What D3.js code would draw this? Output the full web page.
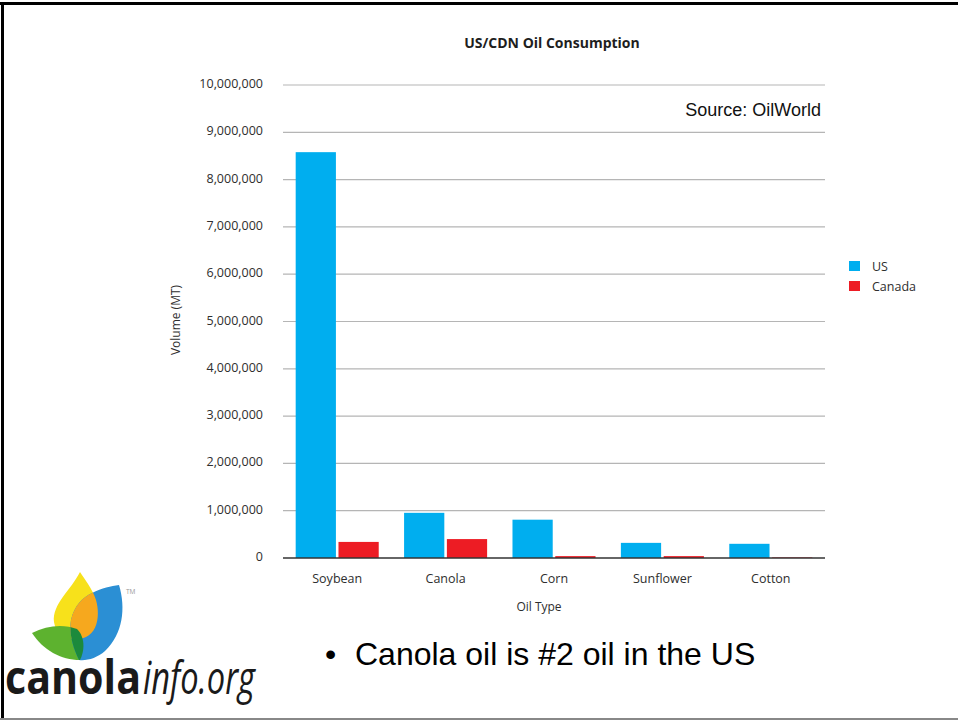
<!DOCTYPE html>
<html>
<head>
<meta charset="utf-8">
<script src="https://cdn.jsdelivr.net/npm/d3@7"></script>
<style>
  html, body { margin: 0; padding: 0; background: #fff; }
  svg { display: block; }
</style>
</head>
<body>
<svg id="chart" width="958" height="720"></svg>
<script>
// ---- data ----
const categories = ["Soybean", "Canola", "Corn", "Sunflower", "Cotton"];
const seriesNames = ["US", "Canada"];
const usValues = [8580000, 955000, 810000, 320000, 300000];
const canadaValues = [340000, 400000, 40000, 40000, 12000];
const yTicks = [0, 1000000, 2000000, 3000000, 4000000, 5000000, 6000000, 7000000, 8000000, 9000000, 10000000];
const seriesColors = ["#00AEEF", "#ED1C24"];

const svg = d3.select("#chart");
const font = "'Open Sans', 'DejaVu Sans', sans-serif";
const textColor = "#2e2e2e";

// ---- frame ----
svg.append("rect").attr("x", 0).attr("y", 0).attr("width", 958).attr("height", 720).attr("fill", "#fff");
svg.append("rect").attr("x", 0).attr("y", 2).attr("width", 958).attr("height", 3).attr("fill", "#000");
svg.append("rect").attr("x", 1).attr("y", 2).attr("width", 3).attr("height", 718).attr("fill", "#000");
svg.append("rect").attr("x", 0).attr("y", 718).attr("width", 958).attr("height", 2).attr("fill", "#888");

// ---- scales ----
const x0 = d3.scaleBand().domain(categories).range([283, 825]).paddingInner(0.234).paddingOuter(0.117);
const x1 = d3.scaleBand().domain(seriesNames).range([0, x0.bandwidth()]).paddingInner(0.06);
const y = d3.scaleLinear().domain([0, 10000000]).range([558, 85]);

// gridlines
svg.append("g").selectAll("line").data(yTicks.filter(d => d > 0)).join("line")
  .attr("x1", 283).attr("x2", 825)
  .attr("y1", d => y(d)).attr("y2", d => y(d))
  .attr("stroke", "#b5b5b5").attr("stroke-width", 1.2);

// y tick labels via axis
const yAxis = d3.axisLeft(y).tickValues(yTicks).tickFormat(d3.format(",")).tickSize(0).tickPadding(0);
const yg = svg.append("g").attr("transform", "translate(263,0)").call(yAxis);
yg.select(".domain").remove();
yg.selectAll("text").attr("font-family", font).attr("font-size", 12.5).attr("fill", textColor).attr("dy", "0.2em");

// bars
const groups = svg.append("g").selectAll("g").data(categories).join("g")
  .attr("transform", d => `translate(${x0(d)},0)`);
groups.selectAll("rect").data((d, i) => [
    { s: "US", v: usValues[i], c: seriesColors[0] },
    { s: "Canada", v: canadaValues[i], c: seriesColors[1] }
  ]).join("rect")
  .attr("x", d => x1(d.s))
  .attr("width", x1.bandwidth())
  .attr("y", d => y(d.v))
  .attr("height", d => y(0) - y(d.v))
  .attr("fill", d => d.c);

// baseline
svg.append("line").attr("x1", 283).attr("x2", 825).attr("y1", y(0)).attr("y2", y(0))
  .attr("stroke", "#333").attr("stroke-width", 1.5);

// x axis labels
const xAxis = d3.axisBottom(x0).tickSize(0).tickPadding(0);
const xg = svg.append("g").attr("transform", "translate(0,574)").call(xAxis);
xg.select(".domain").remove();
xg.selectAll("text").attr("font-family", font).attr("font-size", 12.5).attr("fill", textColor);

// axis titles
svg.append("text").attr("x", 539).attr("y", 611).attr("text-anchor", "middle")
  .attr("font-family", font).attr("font-size", 12).attr("fill", textColor).text("Oil Type");
svg.append("text").attr("transform", "translate(180,320) rotate(-90)").attr("text-anchor", "middle")
  .attr("font-family", font).attr("font-size", 12).attr("fill", textColor).text("Volume (MT)");

// title
svg.append("text").attr("x", 552).attr("y", 48).attr("text-anchor", "middle")
  .attr("font-family", font).attr("font-weight", "bold").attr("font-size", 14).attr("fill", "#1e1e1e")
  .text("US/CDN Oil Consumption");

// source
svg.append("text").attr("x", 821).attr("y", 116).attr("text-anchor", "end")
  .attr("font-family", "'Liberation Sans', Arial, sans-serif").attr("font-size", 18).attr("fill", "#111")
  .text("Source: OilWorld");

// legend
const legend = svg.append("g").selectAll("g").data(seriesNames).join("g")
  .attr("transform", (d, i) => `translate(849,${261 + i * 20})`);
legend.append("rect").attr("width", 11).attr("height", 10).attr("fill", (d, i) => seriesColors[i]);
legend.append("text").attr("x", 23).attr("y", 9.5)
  .attr("font-family", font).attr("font-size", 12.5).attr("fill", textColor).text(d => d);

// bullet text
svg.append("text").attr("x", 325).attr("y", 665)
  .attr("font-family", "'Liberation Sans', Arial, sans-serif").attr("font-size", 32).attr("fill", "#000")
  .text("\u2022");
svg.append("text").attr("x", 355).attr("y", 665)
  .attr("font-family", "'Liberation Sans', Arial, sans-serif").attr("font-size", 32).attr("fill", "#000")
  .text("Canola oil is #2 oil in the US");

// ---- logo ----
const logo = svg.append("g");
const defs = svg.append("defs");
const bluePath = "M92,593 C102,588 111,586 119,585 C126,608 123,634 105,651 C97,658 87,661 79,660 C72,646 69,632 71,620 C74,606 83,597 92,593 Z";
const yellowPath = "M80,572 C71,590 52,604 54,622 C56,637 73,643 86,637 C98,631 100,614 96,600 C92,588 85,580 80,572 Z";
const greenPath = "M32,633 C47,625 64,624 77,629 C85,637 85,650 80,660 C61,660 43,650 32,633 Z";
defs.append("clipPath").attr("id", "blueClip").append("path").attr("d", bluePath);
logo.append("path").attr("d", yellowPath).attr("fill", "#F7E11B");
logo.append("path").attr("d", greenPath).attr("fill", "#5DB22F");
logo.append("path").attr("d", bluePath).attr("fill", "#2B8FD4");
logo.append("path").attr("d", yellowPath).attr("fill", "#F6A81E").attr("clip-path", "url(#blueClip)");
logo.append("path").attr("d", greenPath).attr("fill", "#1C8A3C").attr("clip-path", "url(#blueClip)");
logo.append("text").attr("x", 126).attr("y", 594).attr("font-family", font).attr("font-size", 6.5)
  .attr("fill", "#999").text("TM");
logo.append("text").attr("x", 5).attr("y", 694)
  .attr("font-family", font).attr("font-weight", "bold").attr("font-size", 46).attr("fill", "#1a1a1a")
  .attr("textLength", 136).attr("lengthAdjust", "spacingAndGlyphs").text("canola");
logo.append("text").attr("x", 143).attr("y", 694)
  .attr("font-family", font).attr("font-style", "italic").attr("font-size", 46).attr("fill", "#1a1a1a")
  .attr("textLength", 112).attr("lengthAdjust", "spacingAndGlyphs").text("info.org");
</script>
</body>
</html>
